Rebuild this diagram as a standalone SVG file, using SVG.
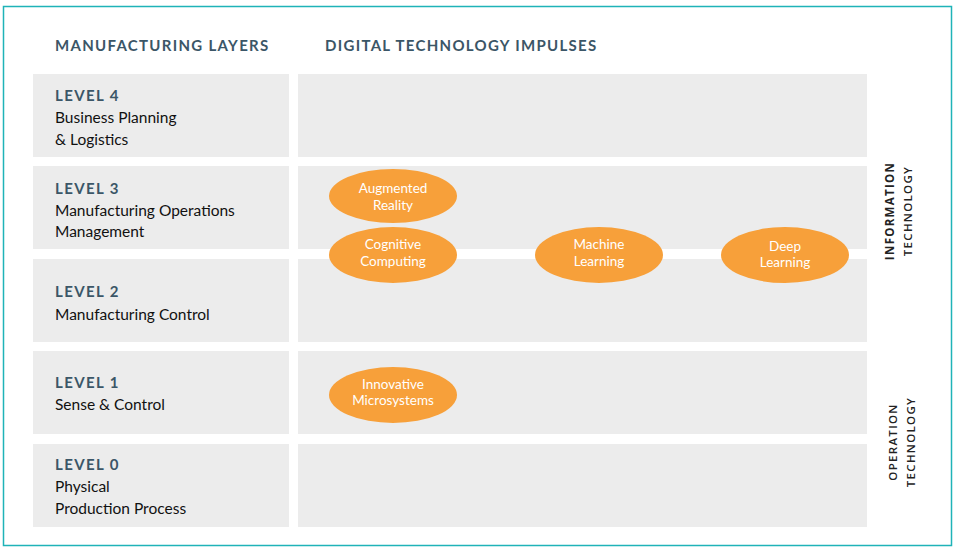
<svg xmlns="http://www.w3.org/2000/svg" width="956" height="551" viewBox="0 0 956 551">
<style>
.frame{fill:#fff;stroke:#1fb3b8;stroke-width:1.5}
.box{fill:#ececec}
.head{font-family:Lato,"Liberation Sans",sans-serif;font-weight:bold;font-size:15px;letter-spacing:1.3px;fill:#3b5667}
.lvl{font-family:Lato,"Liberation Sans",sans-serif;font-weight:bold;font-size:15px;letter-spacing:1.4px;fill:#3b5667}
.txt{font-family:Lato,"Liberation Sans",sans-serif;font-size:15.5px;fill:#111}
.ell{fill:#f7a03a}
.et{font-family:Lato,"Liberation Sans",sans-serif;font-size:13.5px;fill:#fff;text-anchor:middle}
.side{font-family:"Open Sans","Liberation Sans",sans-serif;font-weight:bold;font-size:11.5px;letter-spacing:1.3px;fill:#222;text-anchor:middle}
</style>
<rect class="frame" x="3.5" y="6.5" width="948" height="539"/>
<text class="head" x="55" y="51">MANUFACTURING LAYERS</text>
<text class="head" x="325" y="51">DIGITAL TECHNOLOGY IMPULSES</text>
<g id="level4">
<rect class="box" x="33" y="74" width="256" height="83"/>
<rect class="box" x="298" y="74" width="569" height="83"/>
<text class="lvl" x="55" y="101">LEVEL 4</text>
<text class="txt" x="55" y="123">Business Planning</text>
<text class="txt" x="55" y="145">&amp; Logistics</text>
</g>
<g id="level3">
<rect class="box" x="33" y="166" width="256" height="83"/>
<rect class="box" x="298" y="166" width="569" height="83"/>
<text class="lvl" x="55" y="194">LEVEL 3</text>
<text class="txt" x="55" y="216">Manufacturing Operations</text>
<text class="txt" x="55" y="237">Management</text>
</g>
<g id="level2">
<rect class="box" x="33" y="259" width="256" height="83"/>
<rect class="box" x="298" y="259" width="569" height="83"/>
<text class="lvl" x="55" y="297">LEVEL 2</text>
<text class="txt" x="55" y="320">Manufacturing Control</text>
</g>
<g id="level1">
<rect class="box" x="33" y="351" width="256" height="83"/>
<rect class="box" x="298" y="351" width="569" height="83"/>
<text class="lvl" x="55" y="388">LEVEL 1</text>
<text class="txt" x="55" y="410">Sense &amp; Control</text>
</g>
<g id="level0">
<rect class="box" x="33" y="444" width="256" height="83"/>
<rect class="box" x="298" y="444" width="569" height="83"/>
<text class="lvl" x="55" y="470">LEVEL 0</text>
<text class="txt" x="55" y="492">Physical</text>
<text class="txt" x="55" y="514">Production Process</text>
</g>
<g id="augmented-reality">
<ellipse class="ell" cx="393" cy="196" rx="64" ry="27"/>
<text class="et" x="393" y="193">Augmented</text>
<text class="et" x="393" y="210">Reality</text>
</g>
<g id="cognitive-computing">
<ellipse class="ell" cx="393" cy="255" rx="64" ry="28"/>
<text class="et" x="393" y="249">Cognitive</text>
<text class="et" x="393" y="266">Computing</text>
</g>
<g id="machine-learning">
<ellipse class="ell" cx="599" cy="255" rx="64" ry="28"/>
<text class="et" x="599" y="249">Machine</text>
<text class="et" x="599" y="266">Learning</text>
</g>
<g id="deep-learning">
<ellipse class="ell" cx="785" cy="255" rx="64" ry="28"/>
<text class="et" x="785" y="251">Deep</text>
<text class="et" x="785" y="267">Learning</text>
</g>
<g id="innovative-microsystems">
<ellipse class="ell" cx="393" cy="395" rx="64" ry="28"/>
<text class="et" x="393" y="389">Innovative</text>
<text class="et" x="393" y="405">Microsystems</text>
</g>
<g id="information-technology">
<text class="side" transform="translate(894,211) rotate(-90)">INFORMATION</text>
<text class="side" transform="translate(912,211) rotate(-90)" style="font-weight:600">TECHNOLOGY</text>
</g>
<g id="operation-technology">
<text class="side" transform="translate(897,442) rotate(-90)" style="font-weight:600">OPERATION</text>
<text class="side" transform="translate(915,442) rotate(-90)" style="font-weight:600">TECHNOLOGY</text>
</g>
<g id="connectors"></g>
</svg>
